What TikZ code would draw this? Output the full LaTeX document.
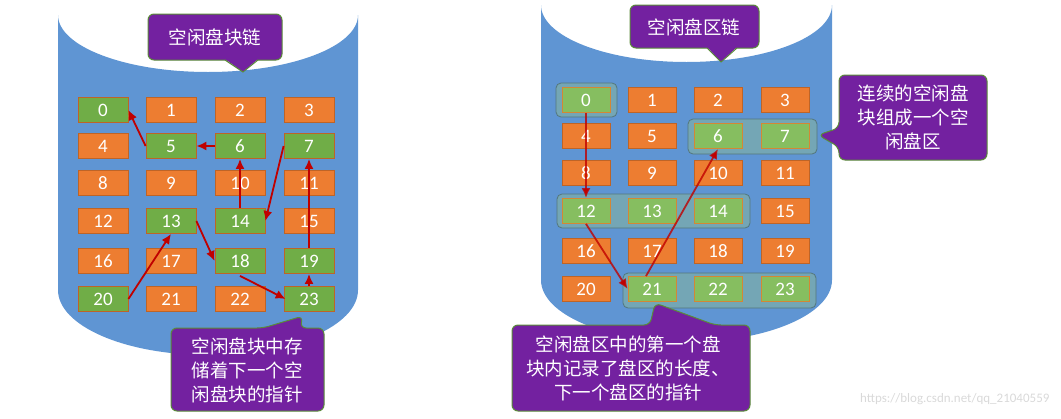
\documentclass[tikz,border=0pt]{standalone}
\usepackage{fontspec}
\setmainfont{Carlito}
\newfontfamily\cjk{Noto Sans CJK SC}
\usetikzlibrary{arrows.meta}
\definecolor{cyl}{HTML}{5F95D3}
\definecolor{org}{HTML}{ED7D31}
\definecolor{grn}{HTML}{70AD47}
\definecolor{lgrn}{HTML}{86BE60}
\definecolor{pur}{HTML}{7321A0}
\definecolor{arr}{HTML}{C00000}
\definecolor{grp}{HTML}{78AAB0}
\tikzset{x=1pt,y=-1pt,
 blk/.style={draw=org!80!black,line width=0.8pt,minimum width=50pt,minimum height=25pt,inner sep=0pt,text=white,font=\fontsize{19}{19}\selectfont},
 ob/.style={blk,fill=org},
 gb/.style={blk,fill=grn},
 lb/.style={blk,fill=lgrn,draw=org!80!grn},
 grpbox/.style={draw=grp!70!black,fill=grp,fill opacity=0.85,rounded corners=5pt,line width=0.8pt},
 callout/.style={fill=pur,draw=grn!80!black,line width=1pt,rounded corners=6pt},
 ctext/.style={text=white,font=\cjk\fontsize{18.5}{24}\selectfont,align=center},
 link/.style={draw=arr,line width=1.8pt,-{Latex[length=10pt,width=9pt]}}}
\begin{document}
\begin{tikzpicture}
\useasboundingbox (0,0) rectangle (1061,418);
% left cylinder
\fill[cyl] (58,15) -- (58,290) arc[start angle=180,end angle=0,x radius=150,y radius=65] -- (358,15) arc[start angle=0,end angle=180,x radius=150,y radius=57] -- cycle;
% right cylinder
\fill[cyl] (541,5) -- (541,280) arc[start angle=180,end angle=0,x radius=145.5,y radius=62] -- (832,5) arc[start angle=0,end angle=180,x radius=145.5,y radius=57] -- cycle;
% left grid
\def\lx{{103,171,240,309}}
\def\ly{{110,146,183,221,261,299}}
\foreach \n in {0,...,23}{
  \pgfmathtruncatemacro\c{mod(\n,4)}\pgfmathtruncatemacro\r{div(\n,4)}
  \pgfmathsetmacro\xx{\lx[\c]}\pgfmathsetmacro\yy{\ly[\r]}
  \def\sty{ob}
  \foreach \g in {0,5,6,7,13,14,18,19,20,23}{\ifnum\g=\n\global\def\sty{gb}\fi}
  \node[\sty] (L\n) at (\xx,\yy) {\n};
}
% right grid
\def\rx{{586,652,718,785}}
\def\ry{{100,136,173,211,251,289}}
\draw[grpbox] (556,83) rectangle (617,117);
\draw[grpbox] (688,119) rectangle (817,154);
\draw[grpbox] (557,194) rectangle (750,228);
\draw[grpbox] (623,273) rectangle (816,308);
\foreach \n in {0,...,23}{
  \pgfmathtruncatemacro\c{mod(\n,4)}\pgfmathtruncatemacro\r{div(\n,4)}
  \pgfmathsetmacro\xx{\rx[\c]}\pgfmathsetmacro\yy{\ry[\r]}
  \def\sty{ob}
  \foreach \g in {0,6,7,12,13,14,21,22,23}{\ifnum\g=\n\global\def\sty{lb}\fi}
  \node[\sty,minimum width=48pt] (R\n) at (\xx,\yy) {\n};
}
% left links
\draw[link] (L20.east) -- (L13.south);
\draw[link] (L13.east) -- (L18.west);
\draw[link] ([yshift=-2pt]L18.south) -- ([xshift=2pt]L23.west);
\draw[link] (L23.north) -- (L19.south);
\draw[link] (L19.north) -- (L7.south);
\draw[link] (L7.west) -- (L14.east);
\draw[link] (L14.north) -- (L6.south);
\draw[link] (L6.west) -- (L5.east);
\draw[link] (L5.west) -- (L0.east);
% right links
\draw[link,draw opacity=0.8] (R0.south) -- (R12.north);
\draw[link,draw opacity=0.8] (R12.south) -- (R21.west);
\draw[link,draw opacity=0.8] ([xshift=-6pt]R21.north) -- (R6.south);
% callouts left
\draw[callout] (148,14) rectangle (282,60);
\fill[pur] (225,59) -- (243,72) -- (258,59) -- cycle;
\draw[grn!80!black,line width=1pt] (225,60) -- (243,72) -- (258,60);
\node[ctext] (t1) at (215,37) {空闲盘块链};
\draw[callout] (171,328) -- (263,328) -- (303,316) -- (300,328) -- (324,328) -- (324,411) -- (171,411) -- cycle;
\node[ctext] (t2) at (247,370) {空闲盘块中存\\储着下一个空\\闲盘块的指针};
% callouts right
\draw[callout] (630,5) rectangle (759,48);
\fill[pur] (707,47) -- (721,62) -- (737,47) -- cycle;
\draw[grn!80!black,line width=1pt] (707,48) -- (721,62) -- (737,48);
\node[ctext] (t3) at (694,27) {空闲盘区链};
\draw[callout] (839,75) -- (987,75) -- (987,160) -- (839,160) -- (839,147) -- (818,135) -- (839,128) -- cycle;
\node[ctext] (t4) at (913,117) {连续的空闲盘\\块组成一个空\\闲盘区};
\draw[callout] (512,325) -- (650,325) -- (655,303) -- (715,325) -- (750,325) -- (750,411) -- (512,411) -- cycle;
\node[ctext] (t5) at (628,368) {空闲盘区中的第一个盘\\块内记录了盘区的长度、\\下一个盘区的指针};
\node[text=black!15,font=\fontsize{13}{13}\selectfont,anchor=east] (wm) at (1053,399) {https://blog.csdn.net/qq\_21040559};
\end{tikzpicture}
\end{document}
